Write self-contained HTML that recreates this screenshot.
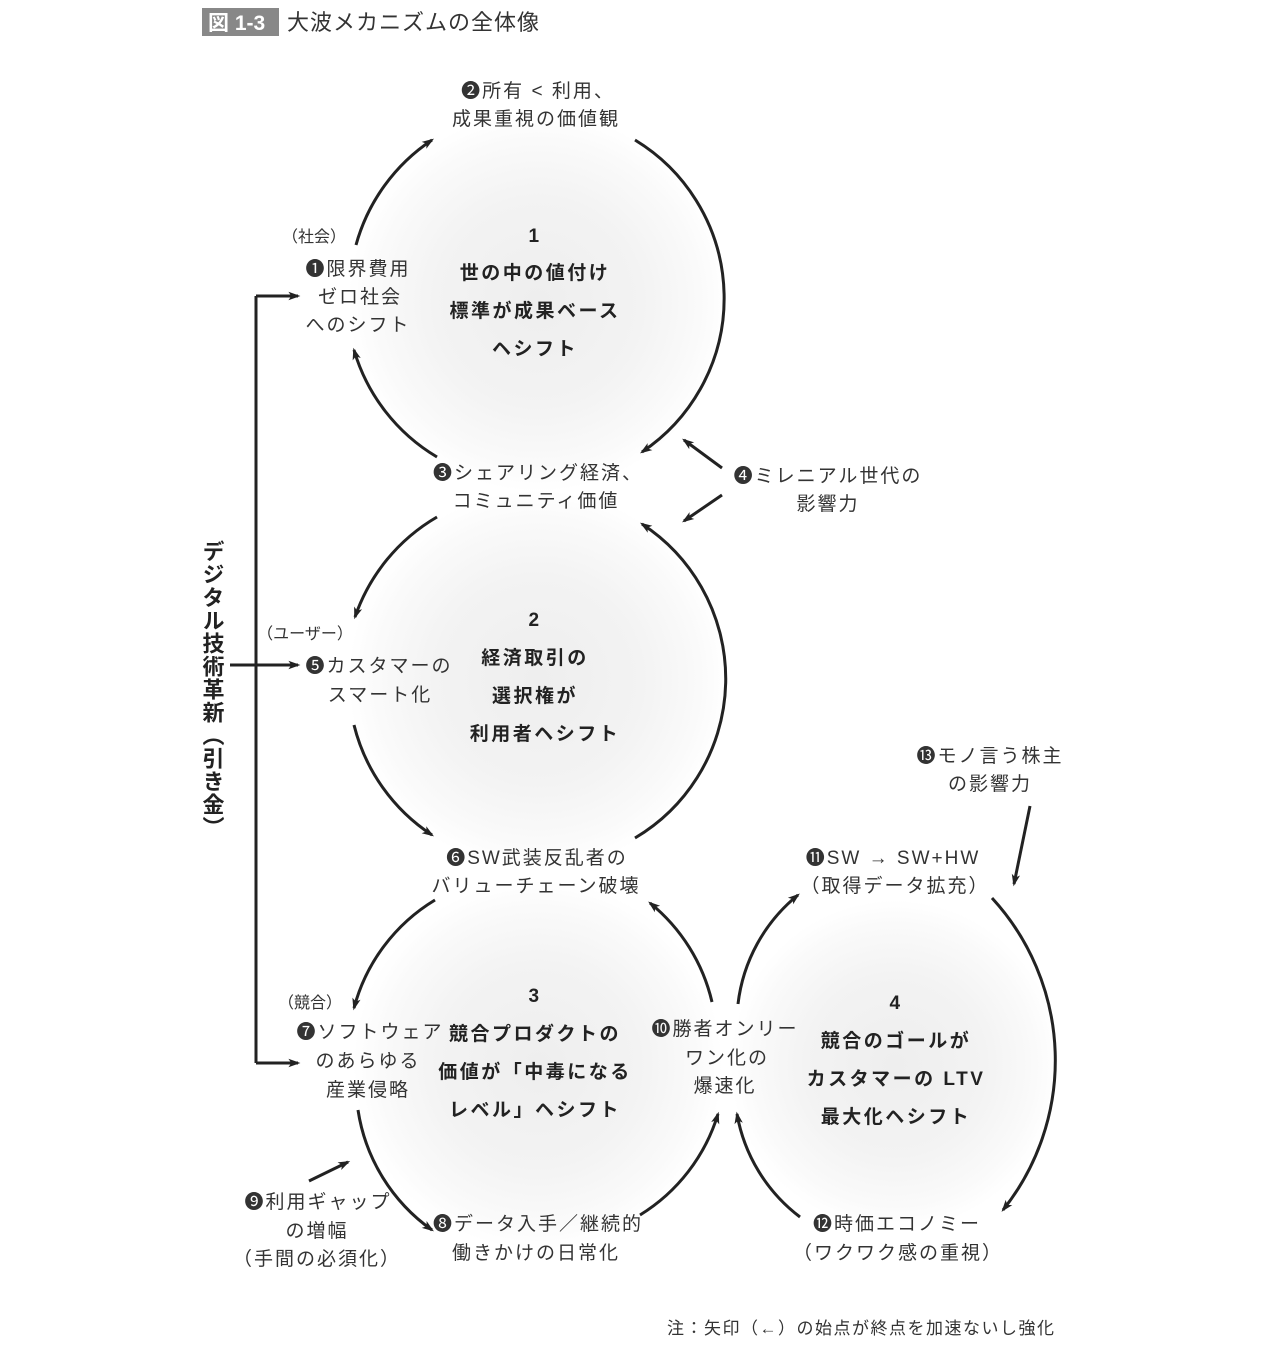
<!DOCTYPE html>
<html><head><meta charset="utf-8">
<style>
html,body{margin:0;padding:0;background:#fff;}
svg{display:block;}
text{font-family:"Liberation Sans","Noto Sans CJK JP",sans-serif;fill:#333;}
.l{font-size:19px;text-anchor:middle;letter-spacing:2px;}
.b{font-size:19px;font-weight:bold;text-anchor:middle;fill:#222;letter-spacing:2.5px;}
.s{font-size:16px;text-anchor:middle;}
</style></head><body>
<svg width="1272" height="1356" viewBox="0 0 1272 1356" xmlns="http://www.w3.org/2000/svg">
<defs>
<radialGradient id="g" cx="0.5" cy="0.5" r="0.5">
<stop offset="0" stop-color="#eeeeee"/>
<stop offset="0.55" stop-color="#f3f3f3"/>
<stop offset="0.85" stop-color="#fafafa"/>
<stop offset="1" stop-color="#ffffff"/>
</radialGradient>
<marker id="a" viewBox="0 0 10 10" refX="8" refY="5" markerWidth="6" markerHeight="6" orient="auto-start-reverse" markerUnits="userSpaceOnUse" style="overflow:visible">
<path d="M-8,-2 L12,5 L-8,12 L-3,5 Z" fill="#222"/>
</marker>
</defs>
<rect x="0" y="0" width="1272" height="1356" fill="#fff"/>
<rect x="202" y="8" width="77" height="28" fill="#888"/>
<text x="208" y="30" style="font-size:21px;fill:#fff;font-weight:bold">図 1-3</text>
<text x="287" y="30" style="font-size:22px;fill:#333;letter-spacing:1px">大波メカニズムの全体像</text>

<circle cx="538" cy="302" r="190" fill="url(#g)"/>
<circle cx="538" cy="680" r="190" fill="url(#g)"/>
<circle cx="538" cy="1065" r="185" fill="url(#g)"/>
<circle cx="895" cy="1065" r="165" fill="url(#g)"/>

<g fill="none" stroke="#222" stroke-width="3" marker-end="url(#a)">
<path d="M356,245 A185,185 0 0 1 432,140"/>
<path d="M635,140 A185,185 0 0 1 642,452"/>
<path d="M437,457 A185,185 0 0 1 354,350"/>
<path d="M437,517 A185,185 0 0 0 355,617"/>
<path d="M354,725 A185,185 0 0 0 432,835"/>
<path d="M635,838 A185,185 0 0 0 642,524"/>
<path d="M435,900 A180,180 0 0 0 354,1008"/>
<path d="M358,1110 A180,180 0 0 0 432,1230"/>
<path d="M640,1215 A180,180 0 0 0 718,1114"/>
<path d="M712,1002 A180,180 0 0 0 650,903"/>
<path d="M738,1004 A165,165 0 0 1 798,895"/>
<path d="M992,898 A240,240 0 0 1 1003,1210"/>
<path d="M800,1217 A165,165 0 0 1 737,1114"/>
<path d="M722,468 L684,440"/>
<path d="M722,495 L684,521"/>
<path d="M1030,806 L1014,884"/>
<path d="M309,1181 L348,1162"/>
<path d="M256,296 L298,296"/>
<path d="M256,1063 L298,1063"/>
<path d="M230,665 L298,665"/>
</g>
<path d="M256,296 L256,1063" stroke="#222" stroke-width="3" fill="none"/>

<text x="212" y="540" style="font-size:22px;font-weight:bold;fill:#222;writing-mode:tb;glyph-orientation-vertical:0;letter-spacing:1px" >デジタル技術革新（引き金）</text>

<text class="b" x="535" y="242">1</text>
<text class="b" x="535" y="279">世の中の値付け</text>
<text class="b" x="535" y="317">標準が成果ベース</text>
<text class="b" x="535" y="355">ヘシフト</text>

<text class="b" x="535" y="626">2</text>
<text class="b" x="535" y="664">経済取引の</text>
<text class="b" x="535" y="702">選択権が</text>
<text class="b" x="545" y="740">利用者ヘシフト</text>

<text class="b" x="535" y="1002">3</text>
<text class="b" x="535" y="1040">競合プロダクトの</text>
<text class="b" x="535" y="1078">価値が「中毒になる</text>
<text class="b" x="535" y="1116">レベル」ヘシフト</text>

<text class="b" x="896" y="1009">4</text>
<text class="b" x="896" y="1047">競合のゴールが</text>
<text class="b" x="896" y="1085">カスタマーの LTV</text>
<text class="b" x="896" y="1123">最大化ヘシフト</text>

<text class="l" x="538" y="97">❷所有 &lt; 利用、</text>
<text class="l" x="536" y="125">成果重視の価値観</text>

<text class="s" x="314" y="242">（社会）</text>
<text class="l" x="358" y="275">❶限界費用</text>
<text class="l" x="360" y="303">ゼロ社会</text>
<text class="l" x="358" y="331">へのシフト</text>

<text class="l" x="538" y="479">❸シェアリング経済、</text>
<text class="l" x="536" y="507">コミュニティ価値</text>

<text class="l" x="828" y="482">❹ミレニアル世代の</text>
<text class="l" x="828" y="510">影響力</text>

<text class="s" x="305" y="639">（ユーザー）</text>
<text class="l" x="379" y="672">❺カスタマーの</text>
<text class="l" x="380" y="701">スマート化</text>

<text class="l" x="537" y="864">❻SW武装反乱者の</text>
<text class="l" x="536" y="892">バリューチェーン破壊</text>

<text class="l" x="990" y="762">⓭モノ言う株主</text>
<text class="l" x="990" y="790">の影響力</text>

<text class="l" x="893" y="864">⓫SW → SW+HW</text>
<text class="l" x="895" y="892">（取得データ拡充）</text>

<text class="s" x="310" y="1008">（競合）</text>
<text class="l" x="370" y="1038">❼ソフトウェア</text>
<text class="l" x="368" y="1067">のあらゆる</text>
<text class="l" x="368" y="1096">産業侵略</text>

<text class="l" x="725" y="1035">❿勝者オンリー</text>
<text class="l" x="727" y="1064">ワン化の</text>
<text class="l" x="725" y="1092">爆速化</text>

<text class="l" x="318" y="1208">❾利用ギャップ</text>
<text class="l" x="317" y="1237">の増幅</text>
<text class="l" x="317" y="1265">（手間の必須化）</text>

<text class="l" x="538" y="1230">❽データ入手／継続的</text>
<text class="l" x="536" y="1259">働きかけの日常化</text>

<text class="l" x="897" y="1230">⓬時価エコノミー</text>
<text class="l" x="898" y="1259">（ワクワク感の重視）</text>

<text x="667" y="1334" style="font-size:17px;fill:#333;letter-spacing:1.5px">注：矢印（←）の始点が終点を加速ないし強化</text>
</svg>
</body></html>
